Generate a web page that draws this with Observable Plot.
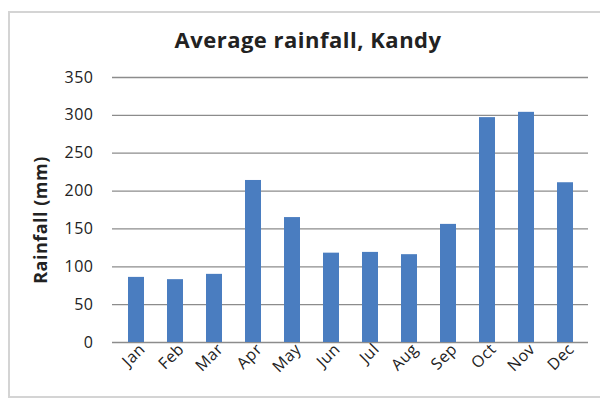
<!DOCTYPE html>
<html>
<head>
<meta charset="utf-8">
<script src="https://cdn.jsdelivr.net/npm/d3@7"></script>
<script src="https://cdn.jsdelivr.net/npm/@observablehq/plot@0.6"></script>
<style>
  html, body { margin: 0; padding: 0; background: #fff; }
  #wrap { position: relative; width: 600px; height: 405px; overflow: hidden; font-family: "Open Sans", sans-serif; }
  #frame { position: absolute; left: 8px; top: 11px; width: 600px; height: 387px; border: 2px solid #d4d4d4; box-sizing: border-box; }
  #title { position: absolute; left: 0; top: 24px; width: 616px; text-align: center; font-size: 22px; letter-spacing: 0.5px; font-weight: 700; color: #222; line-height: 30px; }
  #chart { position: absolute; left: 0; top: 62px; }
</style>
</head>
<body>
<div id="wrap">
  <div id="frame"></div>
  <div id="title">Average rainfall, Kandy</div>
  <div id="chart"></div>
</div>
<script>
const months = ["Jan","Feb","Mar","Apr","May","Jun","Jul","Aug","Sep","Oct","Nov","Dec"];
const rainfall = [86, 83, 90, 214, 165, 118, 119, 116, 156, 297, 304, 211];
const yTicks = [0, 50, 100, 150, 200, 250, 300, 350];
const yLabel = "Rainfall (mm)";

const data = months.map((m, i) => ({month: m, value: rainfall[i]}));

const plot = Plot.plot({
  width: 600,
  height: 343,
  marginTop: 15,
  marginBottom: 63,
  marginLeft: 112,
  marginRight: 12,
  style: {fontFamily: "Open Sans, sans-serif", fontSize: "16px", color: "#222", background: "transparent", overflow: "visible", letterSpacing: "0.5px"},
  x: {domain: months, paddingInner: 0.6, paddingOuter: 0.3, label: null},
  y: {domain: [0, 350], label: null},
  marks: [
    Plot.gridY(yTicks, {stroke: "#8c8c8c", strokeOpacity: 1, strokeWidth: 1.3}),
    Plot.ruleX([0], {frameAnchor: "left", stroke: "#8c8c8c", strokeWidth: 1.3, y1: 0, y2: 350}),
    Plot.barY(data, {x: "month", y: "value", fill: "#4a7dc0"}),
    Plot.axisY({ticks: yTicks, tickSize: 0, tickPadding: 19, label: null, fontSize: 16, fill: "#222"}),
    Plot.axisX({tickSize: 0, tickRotate: -45, tickPadding: 2, label: null, fontSize: 16, fill: "#222", textAnchor: "end", dx: 6, dy: 2}),
    Plot.text([yLabel], {frameAnchor: "left", textAnchor: "middle", dx: -71, dy: 10, rotate: -90, fontSize: 18, fontWeight: "bold", fill: "#222", text: d => d, style: "letter-spacing:1.5px"})
  ]
});
document.getElementById("chart").appendChild(plot);
</script>
</body>
</html>
